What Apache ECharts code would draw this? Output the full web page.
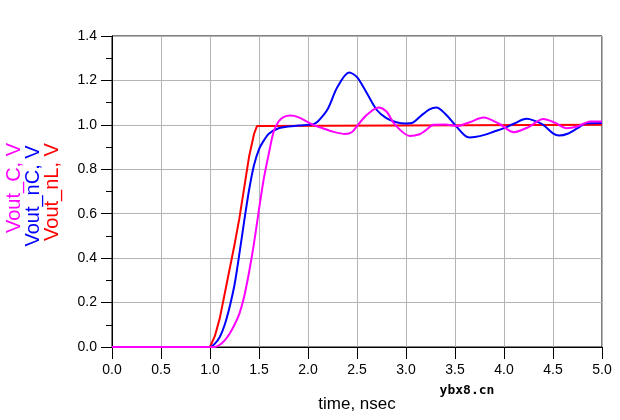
<!DOCTYPE html>
<html>
<head>
<meta charset="utf-8">
<script src="https://cdn.jsdelivr.net/npm/echarts@6/dist/echarts.min.js"></script>
<style>
  html, body { margin: 0; padding: 0; background: #fff; }
  #chart { width: 620px; height: 420px; }
</style>
</head>
<body>
<div id="chart"></div>
<script>
// values (time in ns, voltage in V)
const xTicks = [0, 0.5, 1, 1.5, 2, 2.5, 3, 3.5, 4, 4.5, 5]
const yTicks = [0, 0.2, 0.4, 0.6, 0.8, 1.0, 1.2, 1.4]

const nLTime = [0, 1.0, 1.05, 1.1, 1.15, 1.2, 1.25, 1.3, 1.35, 1.4, 1.45, 1.48, 1.5, 5.0]
const nLVolt = [0, 0, 0.05, 0.13, 0.24, 0.35, 0.46, 0.58, 0.72, 0.86, 0.96, 0.995, 1.0, 1.0]

const nCTime = [0, 1.0, 1.05, 1.1, 1.15, 1.2, 1.25, 1.3, 1.35, 1.4, 1.45, 1.5, 1.55, 1.6, 1.7, 1.8, 1.9, 2.0,
  2.05, 2.1, 2.2, 2.3, 2.42, 2.5, 2.6, 2.7, 2.8, 2.9, 3.0, 3.07, 3.15, 3.24, 3.31, 3.4, 3.5, 3.6, 3.65, 3.7, 3.8,
  3.9, 4.0, 4.1, 4.23, 4.3, 4.4, 4.5, 4.56, 4.65, 4.75, 4.84, 5.0]
const nCVolt = [0, 0, 0.015, 0.045, 0.1, 0.18, 0.28, 0.42, 0.57, 0.71, 0.82, 0.89, 0.93, 0.96, 0.985, 0.993, 0.997, 1.0,
  1.002, 1.015, 1.07, 1.17, 1.236, 1.215, 1.143, 1.068, 1.03, 1.012, 1.006, 1.01, 1.04, 1.07, 1.078, 1.05, 1.0, 0.952, 0.943, 0.945, 0.955,
  0.97, 0.985, 1.005, 1.027, 1.02, 1.0, 0.962, 0.952, 0.96, 0.985, 1.007, 1.008]

const cTime = [0, 1.05, 1.1, 1.15, 1.2, 1.25, 1.3, 1.35, 1.4, 1.45, 1.5, 1.55, 1.6, 1.65, 1.7, 1.75, 1.82, 1.9,
  2.0, 2.05, 2.15, 2.25, 2.38, 2.45, 2.51, 2.6, 2.72, 2.8, 2.89, 3.04, 3.14, 3.2, 3.28, 3.4, 3.52, 3.65,
  3.79, 3.95, 4.1, 4.25, 4.4, 4.52, 4.64, 4.76, 4.88, 5.0]
const cVolt = [0, 0, 0.01, 0.03, 0.06, 0.1, 0.15, 0.23, 0.34, 0.47, 0.62, 0.76, 0.87, 0.97, 1.015, 1.035, 1.042, 1.035,
  1.012, 1.0, 0.985, 0.97, 0.959, 0.968, 1.0, 1.045, 1.078, 1.06, 1.0, 0.95, 0.958, 0.975, 1.0, 1.002, 0.995, 1.012,
  1.033, 1.005, 0.967, 0.99, 1.026, 1.01, 0.985, 0.995, 1.015, 1.015]

const seriesNames = ['Vout_C, V', 'Vout_nC, V', 'Vout_nL, V']
const seriesColors = ['#ff00ff', '#0000ff', '#ff0000']

const font = '"Liberation Sans", Arial, sans-serif'

function pairs(xs, ys) {
  return xs.map((x, i) => [x, ys[i]])
}

const chart = echarts.init(document.getElementById('chart'))

const lineBase = {
  type: 'line',
  showSymbol: false,
  animation: false,
  lineStyle: { width: 2 }
}

chart.setOption({
  animation: false,
  grid: {
    left: 112, right: 18, top: 36, bottom: 73,
    show: true, borderColor: '#000', borderWidth: 1
  },
  xAxis: {
    type: 'value',
    min: xTicks[0],
    max: xTicks[xTicks.length - 1],
    interval: 0.5,
    name: 'time, nsec',
    nameLocation: 'middle',
    nameGap: 49,
    nameTextStyle: { color: '#000', fontSize: 17, fontFamily: font },
    axisLine: { lineStyle: { color: '#000', width: 1 } },
    axisTick: { length: 12, lineStyle: { color: '#000' } },
    axisLabel: {
      color: '#000', fontSize: 14, fontFamily: font, margin: 16,
      formatter: (v) => v.toFixed(1)
    },
    splitLine: { lineStyle: { color: '#b4b4b4', width: 1 } }
  },
  yAxis: {
    type: 'value',
    min: yTicks[0],
    max: yTicks[yTicks.length - 1],
    interval: 0.2,
    axisLine: { show: true, lineStyle: { color: '#000', width: 1 } },
    axisTick: { show: true, length: 11, lineStyle: { color: '#000' } },
    minorTick: { show: true, splitNumber: 2, length: 6, lineStyle: { color: '#000' } },
    axisLabel: {
      color: '#000', fontSize: 14, fontFamily: font, margin: 15,
      formatter: (v) => v.toFixed(1)
    },
    splitLine: { lineStyle: { color: '#b4b4b4', width: 1 } }
  },
  graphic: [
    { type: 'text', x: 14, y: 188, rotation: Math.PI / 2,
      style: { text: seriesNames[0], fill: seriesColors[0], font: '20px ' + font, align: 'center', verticalAlign: 'middle' } },
    { type: 'text', x: 33, y: 196, rotation: Math.PI / 2,
      style: { text: seriesNames[1], fill: seriesColors[1], font: '20px ' + font, align: 'center', verticalAlign: 'middle' } },
    { type: 'text', x: 52, y: 192, rotation: Math.PI / 2,
      style: { text: seriesNames[2], fill: seriesColors[2], font: '20px ' + font, align: 'center', verticalAlign: 'middle' } },
    { type: 'text', x: 467, y: 391,
      style: { text: 'ybx8.cn', fill: '#000', font: 'bold 13px "DejaVu Sans Mono", monospace', align: 'center', verticalAlign: 'middle' } }
  ],
  series: [
    { ...lineBase, name: seriesNames[2], color: seriesColors[2], data: pairs(nLTime, nLVolt), smooth: false },
    { ...lineBase, name: seriesNames[1], color: seriesColors[1], data: pairs(nCTime, nCVolt), smooth: 0.3 },
    { ...lineBase, name: seriesNames[0], color: seriesColors[0], data: pairs(cTime, cVolt), smooth: 0.3 }
  ]
})
</script>
</body>
</html>
